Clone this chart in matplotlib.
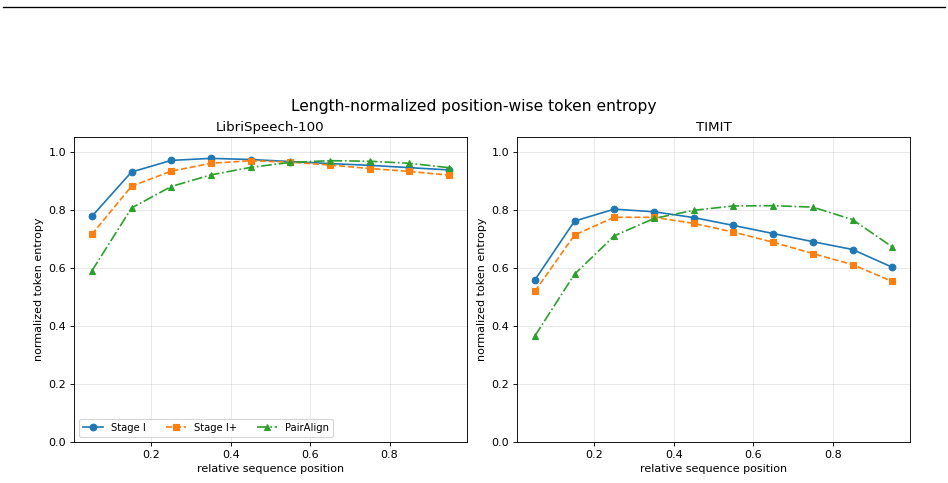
import matplotlib
matplotlib.use('Agg')
import matplotlib.pyplot as plt
from matplotlib.lines import Line2D

positions = [0.05, 0.15, 0.25, 0.35, 0.45, 0.55, 0.65, 0.75, 0.85, 0.95]

# LibriSpeech-100
libri_stage1 = [0.777, 0.930, 0.970, 0.977, 0.973, 0.966, 0.959, 0.953, 0.945, 0.937]
libri_stage1p = [0.715, 0.881, 0.933, 0.960, 0.969, 0.964, 0.954, 0.942, 0.932, 0.919]
libri_pairalign = [0.589, 0.806, 0.880, 0.920, 0.946, 0.963, 0.969, 0.967, 0.960, 0.945]

# TIMIT
timit_stage1 = [0.558, 0.761, 0.802, 0.793, 0.773, 0.746, 0.718, 0.690, 0.663, 0.602]
timit_stage1p = [0.519, 0.713, 0.774, 0.774, 0.753, 0.723, 0.688, 0.649, 0.611, 0.553]
timit_pairalign = [0.365, 0.578, 0.710, 0.770, 0.798, 0.813, 0.814, 0.809, 0.766, 0.672]

panels = [
    ('LibriSpeech-100', libri_stage1, libri_stage1p, libri_pairalign),
    ('TIMIT', timit_stage1, timit_stage1p, timit_pairalign),
]

fig, axes = plt.subplots(1, 2, figsize=(11.85, 6.0375), dpi=80)
fig.subplots_adjust(left=0.078, right=0.960, bottom=0.085, top=0.716, wspace=0.127)

for ax, (name, s1, s1p, pa) in zip(axes, panels):
    ax.plot(positions, s1, marker='o', linestyle='-', label='Stage I')
    ax.plot(positions, s1p, marker='s', linestyle='--', label='Stage I+')
    ax.plot(positions, pa, marker='^', linestyle='-.', label='PairAlign')
    ax.set_title(name)
    ax.set_xlabel('relative sequence position')
    ax.set_ylabel('normalized token entropy')
    ax.set_ylim(0, 1.05)
    ax.grid(True, alpha=0.3)

axes[0].legend(loc='lower left', ncol=3, fontsize=9)

fig.suptitle('Length-normalized position-wise token entropy', fontsize=14, y=0.795)
fig.add_artist(Line2D([3 / 948, 945 / 948], [1 - 7 / 483, 1 - 7 / 483],
                      transform=fig.transFigure, color='black', linewidth=1.2))

fig.savefig('out.png', dpi=80)
